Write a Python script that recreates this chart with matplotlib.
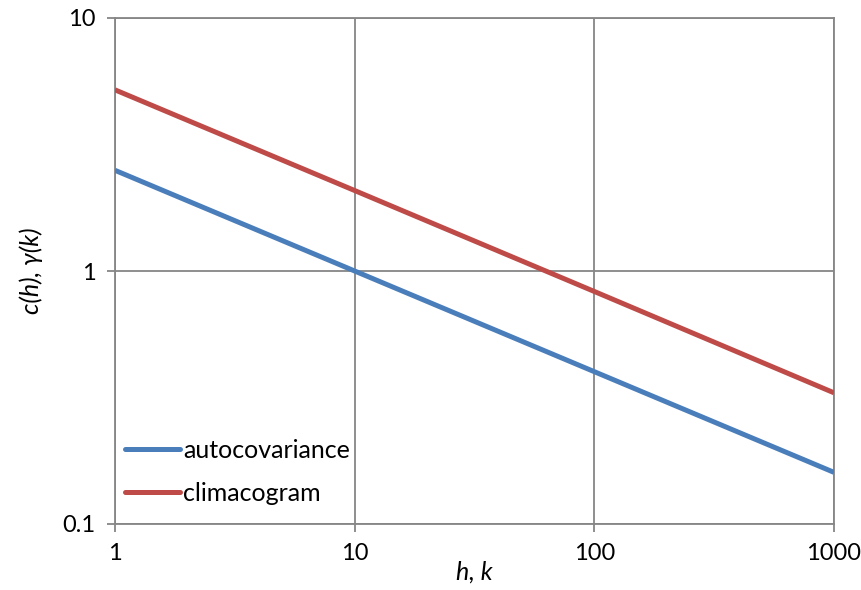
import matplotlib
matplotlib.use("Agg")
import matplotlib.pyplot as plt
from matplotlib.ticker import FixedLocator, FixedFormatter, NullLocator

# Data
lags = [1, 10, 100, 1000]
autocovariance = [2.5, 1.0, 0.4, 0.16]
climacogram = [5.2, 2.08, 0.83, 0.33]
x_ticks = [1, 10, 100, 1000]
x_tick_labels = ["1", "10", "100", "1000"]
y_ticks = [0.1, 1, 10]
y_tick_labels = ["0.1", "1", "10"]

plt.rcParams['font.family'] = ['Lato', 'DejaVu Sans']

fig = plt.figure(figsize=(8.62, 5.90), dpi=100)
ax = fig.add_axes([115/862, 66/590, 719/862, 506/590])

blue = '#4A7EBB'
red = '#BE4B48'
ax.plot(lags, autocovariance, color=blue, lw=3.6, solid_capstyle='butt', label='autocovariance', zorder=3)
ax.plot(lags, climacogram, color=red, lw=3.6, solid_capstyle='butt', label='climacogram', zorder=3)

ax.set_xscale('log')
ax.set_yscale('log')
ax.set_xlim(1, 1000)
ax.set_ylim(0.1, 10)
ax.xaxis.set_major_locator(FixedLocator(x_ticks))
ax.xaxis.set_major_formatter(FixedFormatter(x_tick_labels))
ax.yaxis.set_major_locator(FixedLocator(y_ticks))
ax.yaxis.set_major_formatter(FixedFormatter(y_tick_labels))
ax.xaxis.set_minor_locator(NullLocator())
ax.yaxis.set_minor_locator(NullLocator())

gray = '#868686'
ax.grid(True, color=gray, lw=1.3)
for s in ax.spines.values():
    s.set_color(gray)
    s.set_linewidth(1.3)
ax.tick_params(axis='both', which='major', direction='out', length=6, width=1.3,
               color=gray, labelsize=17, labelcolor='black', pad=8)

ax.set_xlabel('h, k', fontsize=18, style='italic', labelpad=-3)
ax.set_ylabel('c(h), γ(k)', fontsize=18, style='italic', labelpad=14)

leg = ax.legend(loc='lower left', bbox_to_anchor=(0.014, 0.038), frameon=False,
                fontsize=18, handlelength=2.2, handletextpad=0.12,
                labelspacing=0.8, borderpad=0, borderaxespad=0)
for line in leg.get_lines():
    line.set_linewidth(3.6)
    line.set_solid_capstyle('round')

fig.savefig('out.png', dpi=100, facecolor='white')
